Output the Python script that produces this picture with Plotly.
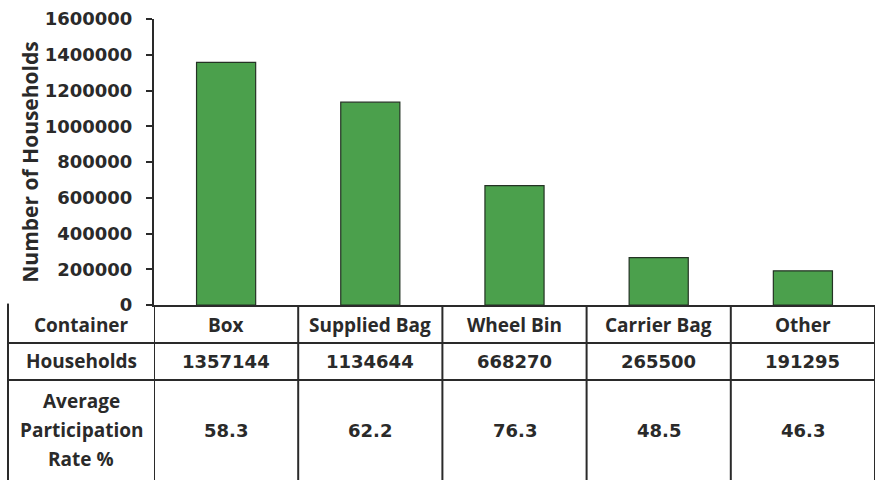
import plotly.graph_objects as go

# Data
containers = ["Box", "Supplied Bag", "Wheel Bin", "Carrier Bag", "Other"]
households = [1357144, 1134644, 668270, 265500, 191295]
participation = ["58.3", "62.2", "76.3", "48.5", "46.3"]
row_labels = ["Container", "Households", "Average<br>Participation<br>Rate %"]

WORD_FONT = dict(family="Open Sans", size=19, weight="bold")
NUM_FONT = dict(family="DejaVu Sans", size=18, weight="bold")
INK = "#2a2a2a"
PLOT_H = 286  # px height of the plotting area


def px_to_paper(py):
    # py = pixels below the x axis line
    return -py / PLOT_H


fig = go.Figure()
fig.add_trace(go.Bar(
    x=containers,
    y=households,
    width=0.41,
    marker=dict(color="#4ba04c", line=dict(color="#243324", width=1.2)),
    hoverinfo="x+y",
))

# Table rows under the plot (row centres in px below the axis)
row_centres = [20, 56, 125]
row_lines = [38, 75]
line_pitch = 29
table_bottom = px_to_paper(180)
label_x0 = -0.2025

annotations = []
for label, c in zip(row_labels, row_centres):
    parts = label.split("<br>")
    for k, part in enumerate(parts):
        off = (k - (len(parts) - 1) / 2) * line_pitch
        annotations.append(dict(x=-0.101, y=px_to_paper(c + off), xref="paper", yref="paper",
                                text=part, font=WORD_FONT, showarrow=False,
                                xanchor="center", yanchor="middle"))
rows = [containers, [str(v) for v in households], participation]
for r, (vals, c) in enumerate(zip(rows, row_centres)):
    for i, v in enumerate(vals):
        annotations.append(dict(x=i, y=px_to_paper(c), xref="x", yref="paper", text=v,
                                font=WORD_FONT if r == 0 else NUM_FONT, showarrow=False,
                                xanchor="center", yanchor="middle"))

shapes = []
line = dict(color=INK, width=2)
for i in range(len(containers) + 1):
    shapes.append(dict(type="line", xref="x", yref="paper", x0=i - 0.5, x1=i - 0.5,
                       y0=0, y1=table_bottom, line=line))
shapes.append(dict(type="line", xref="paper", yref="paper", x0=label_x0, x1=label_x0,
                   y0=0.005, y1=table_bottom, line=line))
for yy in row_lines:
    shapes.append(dict(type="line", xref="paper", yref="paper", x0=label_x0, x1=1,
                       y0=px_to_paper(yy), y1=px_to_paper(yy), line=line))

fig.update_layout(
    width=881,
    height=480,
    margin=dict(l=154, r=6, t=19, b=175),
    paper_bgcolor="white",
    plot_bgcolor="white",
    showlegend=False,
    font=dict(color=INK, **NUM_FONT),
    xaxis=dict(range=[-0.5, 4.5], showticklabels=False, ticks="", showgrid=False,
               showline=True, linecolor=INK, linewidth=2, zeroline=False,
               automargin=False),
    yaxis=dict(range=[0, 1600000], dtick=200000, tickformat="d", showgrid=False,
               showline=True, linecolor=INK, linewidth=2, ticks="outside", ticklen=6,
               tickwidth=1.5, tickcolor=INK, zeroline=False, automargin=False,
               ticklabelstandoff=10,
               title=dict(text="Number of Households", standoff=0,
                          font=dict(family="Open Sans", size=21, weight="bold"))),
    annotations=annotations,
    shapes=shapes,
)

# drop the default body margin so the figure sits at the window origin
fig.write_html("out.html", config={"displayModeBar": False},
               post_script="document.body.style.margin='0';")
